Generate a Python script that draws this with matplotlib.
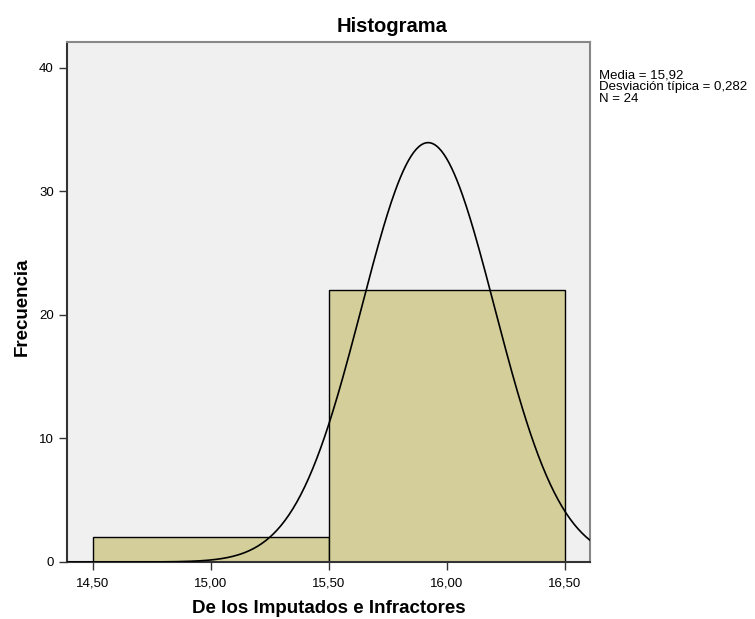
import numpy as np
import matplotlib
matplotlib.use('Agg')
import matplotlib.pyplot as plt

plt.rcParams['font.family'] = ['Liberation Sans', 'DejaVu Sans']

# datos del histograma
bin_edges = [14.5, 15.5, 16.5]
counts = [2, 22]
media = 15.92
desv = 0.282
n = 24
xticks = [14.5, 15.0, 15.5, 16.0, 16.5]
yticks = [0, 10, 20, 30, 40]

W, H = 755, 619
fig = plt.figure(figsize=(W / 100, H / 100), dpi=100)
ax = fig.add_axes([67/W, 57/H, 523/W, 520/H])
ax.set_facecolor('#f0f0f0')

ax.bar(bin_edges[:-1], counts, width=np.diff(bin_edges), align='edge',
       color='#d3ce9a', edgecolor='black', linewidth=1.0, zorder=2)

# curva normal
xs = np.linspace(14.39, 16.61, 400)
w = bin_edges[1] - bin_edges[0]
ys = n * w / (desv * np.sqrt(2 * np.pi)) * np.exp(-0.5 * ((xs - media) / desv) ** 2)
ax.plot(xs, ys, color='black', linewidth=1.2, zorder=3)

ax.set_xlim(14.39, 16.606)
ax.set_ylim(0, 42.1)
ax.set_xticks(xticks)
ax.set_xticklabels([('%.2f' % t).replace('.', ',') for t in xticks])
ax.set_yticks(yticks)
ax.tick_params(axis='both', direction='out', length=6, width=1, labelsize=9.5, color='#333333')
ax.tick_params(axis='x', pad=5.5)

for s in ['left', 'bottom']:
    ax.spines[s].set_color('#333333')
    ax.spines[s].set_linewidth(1.5)
for s in ['top', 'right']:
    ax.spines[s].set_color('#888888')
    ax.spines[s].set_linewidth(1.5)

fig.text(392/W, 1 - 32/H, 'Histograma', fontsize=14.5, fontweight='bold',
         ha='center', va='baseline')
ax.set_xlabel('De los Imputados e Infractores', fontsize=13.5, fontweight='bold')
ax.xaxis.set_label_coords(0.5, -(600 - 562) / 520)
ax.set_ylabel('Frecuencia', fontsize=13.5, fontweight='bold')
ax.yaxis.set_label_coords((31 - 67) / 523, 0.49)

fig.text(599/W, 1 - 69/H,
         'Media = 15,92\nDesviación típica = 0,282\nN = 24',
         fontsize=9.5, va='top', ha='left', linespacing=1.0)

fig.savefig('out.png', dpi=100)
